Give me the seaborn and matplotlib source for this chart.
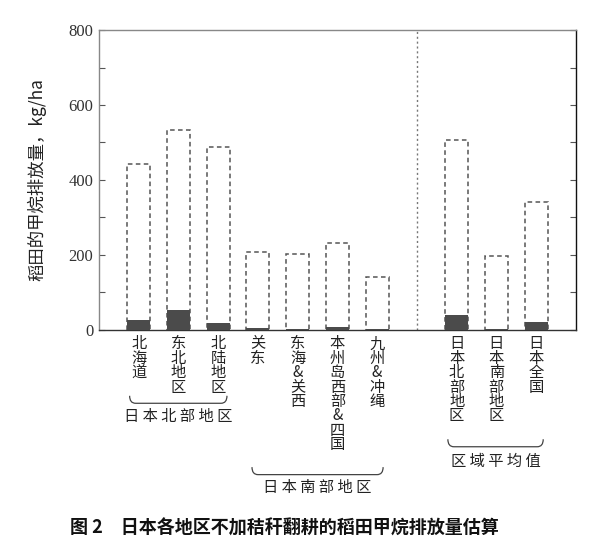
import pandas as pd
import matplotlib.pyplot as plt
import seaborn as sns
from matplotlib.path import Path
from matplotlib.patches import PathPatch
import matplotlib.transforms as mtransforms

# data (kg/ha)
regions = ['北海道', '东北地区', '北陆地区', '关东', '东海 & 关西',
           '本州岛西部 & 四国', '九州 & 冲绳',
           '日本北部地区', '日本南部地区', '日本全国']
total_emission = [443, 533, 488, 208, 203, 232, 141, 507, 197, 341]
dark_part = [25, 54, 18, 4, 2, 7, 1, 40, 2, 21]

groups = ['日 本 北 部 地 区', '日 本 南 部 地 区', '区 域 平 均 值']
y_ticks = [0, 200, 400, 600, 800]

sns.set_theme(style="ticks")
plt.rcParams['font.family'] = ['Noto Sans CJK SC', 'DejaVu Sans']

df = pd.DataFrame({'region': regions, 'total': total_emission, 'dark': dark_part})
# blank slot between the regions and the averages
gap = ' '
order = regions[:7] + [gap] + regions[7:]

fig = plt.figure(figsize=(5.93, 5.47), dpi=100)
ax = fig.add_axes([0.167, 0.397, 0.804, 0.548])

sns.barplot(data=df, x='region', y='total', order=order, ax=ax,
            color='white', saturation=1, width=0.58,
            edgecolor='#555555', linewidth=1.1, linestyle=(0, (3, 2.2)))
sns.barplot(data=df, x='region', y='dark', order=order, ax=ax,
            color='#4b4b4b', saturation=1, width=0.58,
            linewidth=0, zorder=3)

ax.axvline(order.index(gap), color='#777777', linestyle=(0, (1.5, 2)), lw=1)

ax.set_xlim(-1, len(order))
ax.set_ylim(0, 800)
ax.set_yticks(y_ticks)
ax.set_yticks(range(100, 800, 200), minor=True)
ax.tick_params(axis='y', which='both', direction='in', right=True,
               length=4, width=0.8, color='#555555', pad=4)
ax.tick_params(axis='x', length=0, pad=4)
ax.set_yticklabels([str(v) for v in y_ticks])
for lab in ax.get_yticklabels():
    lab.set_fontfamily(['Liberation Serif'])
    lab.set_fontsize(12)
    lab.set_color('#333333')

ax.set_xticks(range(len(order)))
ax.set_xticklabels(['\n'.join(n.replace(' ', '')) for n in order],
                   fontsize=11, linespacing=0.8, va='top', color='#222222')

ax.set_xlabel('')
ax.set_ylabel('稻田的甲烷排放量，kg/ha', fontsize=12.5, color='#222222', labelpad=16)

for side in ['top', 'left']:
    ax.spines[side].set_color('#888888')
ax.spines['right'].set_color('#111111')
ax.spines['bottom'].set_color('#333333')
for s in ax.spines.values():
    s.set_linewidth(1)

# braces under the category groups
trans = mtransforms.blended_transform_factory(ax.transData, ax.transAxes)
spans = [(-0.23, 2.22, -0.245, -0.29),
         (2.85, 6.15, -0.483, -0.527),
         (7.78, 10.18, -0.39, -0.44)]
for name, (x0, x1, yb, yt) in zip(groups, spans):
    r, d = 0.15, 0.025
    verts = [(x0, yb + d), (x0, yb), (x0 + r, yb), (x1 - r, yb),
             (x1, yb), (x1, yb + d)]
    codes = [Path.MOVETO, Path.CURVE3, Path.CURVE3, Path.LINETO,
             Path.CURVE3, Path.CURVE3]
    ax.add_patch(PathPatch(Path(verts, codes), transform=trans, fill=False,
                           edgecolor='#444444', lw=0.9, clip_on=False))
    ax.text((x0 + x1) / 2, yt, name, transform=trans, ha='center', va='center',
            fontsize=11, color='#222222')

fig.text(0.118, 0.035, '图 2　日本各地区不加秸秆翻耕的稻田甲烷排放量估算',
         fontsize=13, fontweight='bold', color='#111111', va='center')

fig.savefig('out.png', dpi=100, facecolor='white')
